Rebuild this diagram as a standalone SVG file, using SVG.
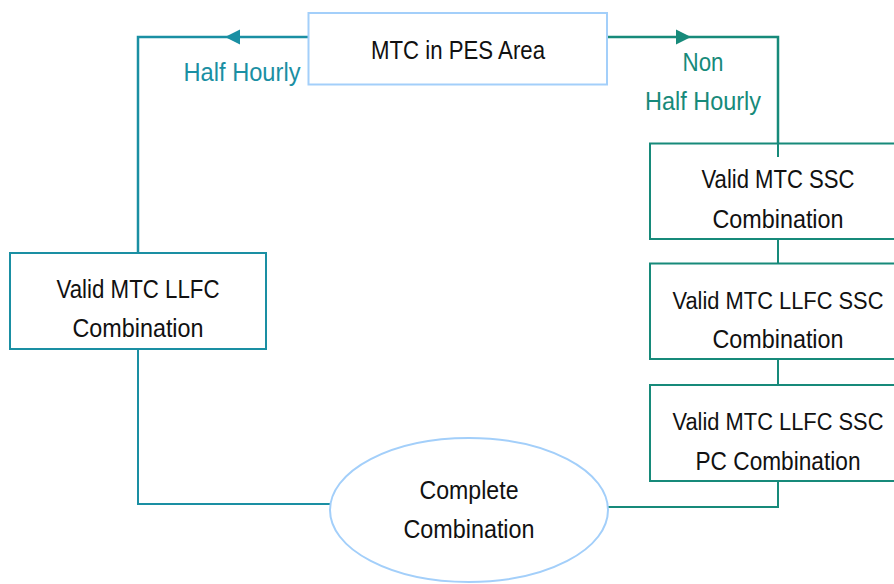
<svg xmlns="http://www.w3.org/2000/svg" width="894" height="584" viewBox="0 0 894 584">
<style>
text{font-family:"Liberation Sans",Arial,sans-serif;font-size:25px;fill:#111;text-anchor:middle}
.long{font-size:23px}
.lbl-hh{fill:#1a8fa3}
.lbl-nhh{fill:#178a7a}
.blue{fill:#fff;stroke:#a3cffa;stroke-width:2}
.tb{fill:#fff;stroke:#1a8fa3;stroke-width:2}
.tg{fill:#fff;stroke:#178a7a;stroke-width:2}
.cb{fill:none;stroke:#1a8fa3;stroke-width:2}
.cg{fill:none;stroke:#178a7a;stroke-width:2}
.ab{fill:#1a8fa3}
.ag{fill:#178a7a}
</style>
<rect width="894" height="584" fill="#fff"/>
<g id="connectors">
<path class="cb" d="M308,37 H138 V253" style="stroke-width:2.5"/>
<polygon class="ab" points="225,37 240,29.5 240,44.5"/>
<path class="cb" d="M138,349 V504 H331"/>
<path class="cg" d="M607,37 H778 V143" style="stroke-width:2.5"/>
<polygon class="ag" points="691,37 676,29.5 676,44.5"/>
<path class="cg" d="M778,239 V263"/>
<path class="cg" d="M778,359 V385"/>
<path class="cg" d="M778,481 V507 H607"/>
</g>
<g id="mtc-pes">
<rect class="blue" x="308.5" y="13" width="298.5" height="71.5"/>
<text x="458" y="59" textLength="174" lengthAdjust="spacingAndGlyphs">MTC in PES Area</text>
</g>
<g id="label-hh">
<text class="lbl-hh" x="242" y="81" textLength="117" lengthAdjust="spacingAndGlyphs">Half Hourly</text>
</g>
<g id="label-nhh">
<text class="lbl-nhh" x="703" y="71" textLength="41" lengthAdjust="spacingAndGlyphs">Non</text>
<text class="lbl-nhh" x="703" y="110" textLength="116" lengthAdjust="spacingAndGlyphs">Half Hourly</text>
</g>
<g id="mtc-llfc">
<rect class="tb" x="10" y="253" width="256" height="96"/>
<text x="138" y="298" textLength="163" lengthAdjust="spacingAndGlyphs">Valid MTC LLFC</text>
<text x="138" y="337" textLength="131" lengthAdjust="spacingAndGlyphs">Combination</text>
</g>
<g id="mtc-ssc">
<rect class="tg" x="650" y="143.5" width="246" height="95.5"/>
<path class="cg" d="M778,143 V157"/>
<text x="778" y="188" textLength="153" lengthAdjust="spacingAndGlyphs">Valid MTC SSC</text>
<text x="778" y="228" textLength="131" lengthAdjust="spacingAndGlyphs">Combination</text>
</g>
<g id="mtc-llfc-ssc">
<rect class="tg" x="650" y="263.5" width="246" height="95.5"/>
<text class="long" x="778" y="309" textLength="211" lengthAdjust="spacingAndGlyphs">Valid MTC LLFC SSC</text>
<text x="778" y="348" textLength="131" lengthAdjust="spacingAndGlyphs">Combination</text>
</g>
<g id="mtc-llfc-ssc-pc">
<rect class="tg" x="650" y="385" width="246" height="96"/>
<text class="long" x="778" y="430" textLength="211" lengthAdjust="spacingAndGlyphs">Valid MTC LLFC SSC</text>
<text x="778" y="470" textLength="165" lengthAdjust="spacingAndGlyphs">PC Combination</text>
</g>
<g id="complete">
<ellipse class="blue" cx="469" cy="510" rx="139" ry="72"/>
<text x="469" y="499" textLength="99" lengthAdjust="spacingAndGlyphs">Complete</text>
<text x="469" y="538" textLength="131" lengthAdjust="spacingAndGlyphs">Combination</text>
</g>
</svg>
